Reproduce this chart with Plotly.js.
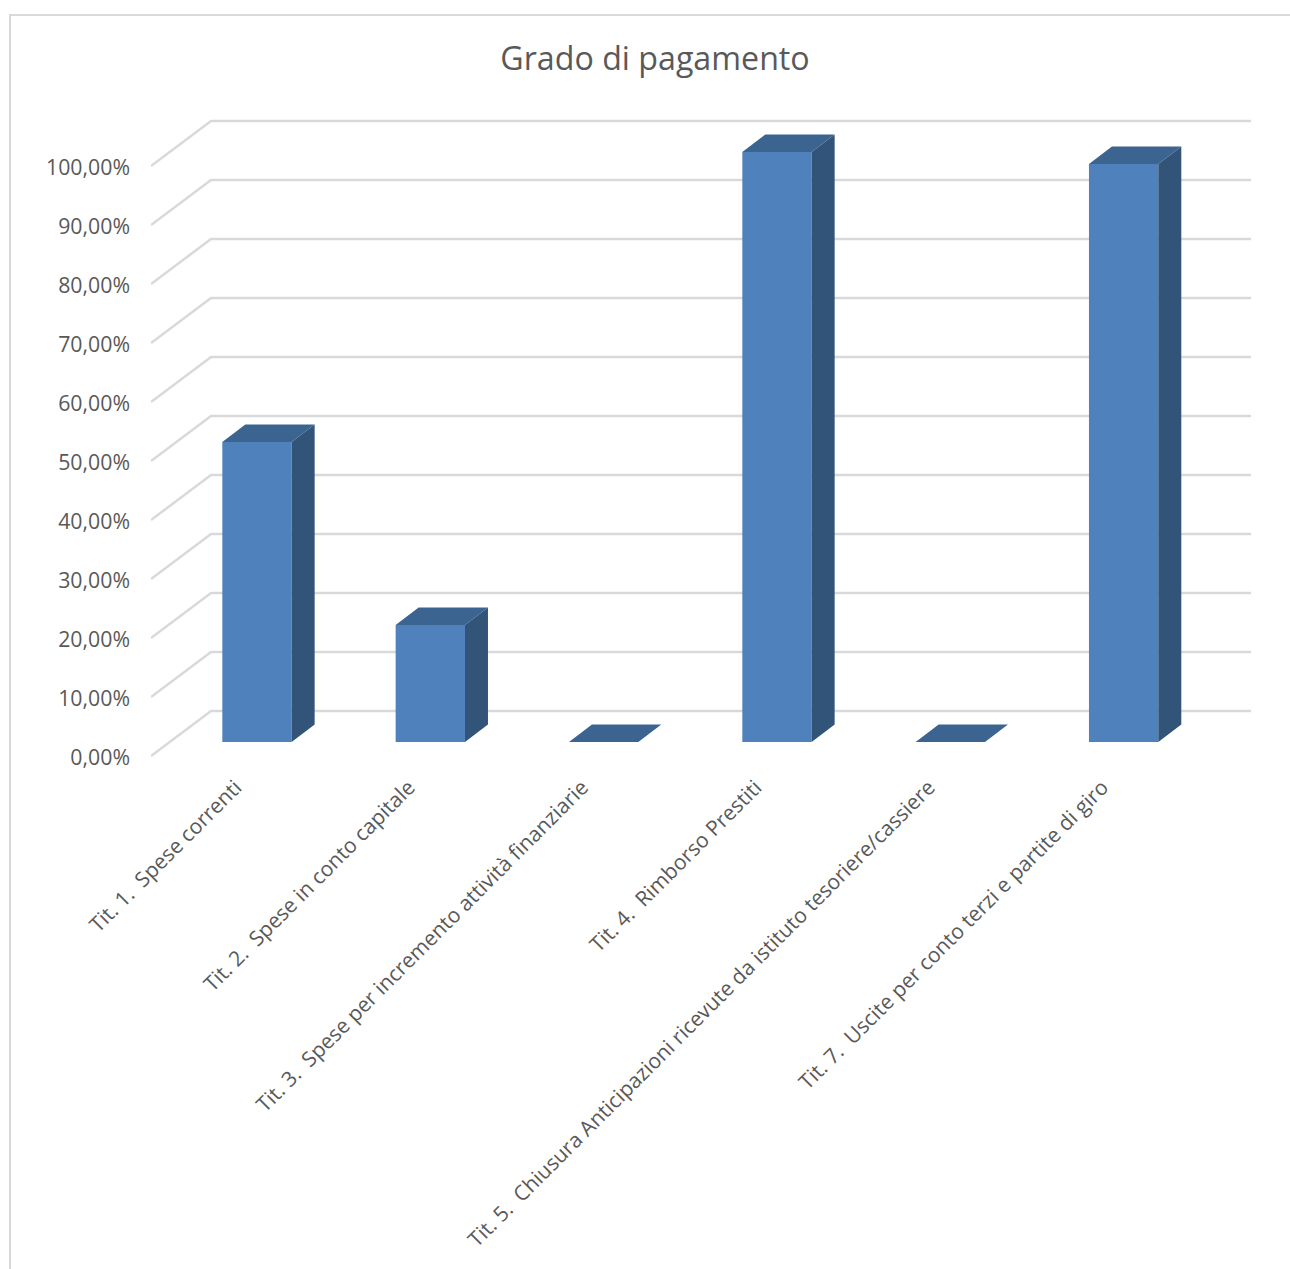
<!DOCTYPE html>
<html>
<head>
<meta charset="utf-8">
<script src="https://cdn.plot.ly/plotly-3.0.1.min.js"></script>
<style>
  html, body { margin: 0; padding: 0; background: #fff; }
  #frame { position: absolute; left: 9px; top: 14px; width: 1281px; height: 1255px;
           border-left: 2px solid #d9d9d9; border-top: 2px solid #d9d9d9; box-sizing: border-box; }
  #chart { position: absolute; left: 0; top: 0; width: 1290px; height: 1269px; }
</style>
</head>
<body>
<div id="frame"></div>
<div id="chart"></div>
<script>
// Share of payments for each budget title
const categories = [
  "Tit. 1.\u00A0 Spese correnti",
  "Tit. 2.\u00A0 Spese in conto capitale",
  "Tit. 3.\u00A0 Spese per incremento attività finanziarie",
  "Tit. 4.\u00A0 Rimborso Prestiti",
  "Tit. 5.\u00A0 Chiusura Anticipazioni ricevute da istituto tesoriere/cassiere",
  "Tit. 7.\u00A0 Uscite per conto terzi e partite di giro"
];
const values = [0.5085, 0.1983, 0, 1, 0, 0.9797];
const yTicks = [0, 0.1, 0.2, 0.3, 0.4, 0.5, 0.6, 0.7, 0.8, 0.9, 1];

// Oblique projection of the box, in axis units
const floorDx = 0.3462, floorDy = 0.0763;   // depth of the whole floor
const barDx = 0.1327, barDy = 0.0297;       // depth of one column
const barShift = 0.1114, barBase = 0.0237; // where the column's front sits on the floor
const barWidth = 0.4;
const labelShift = -0.012;                  // rotated labels sit just left of the slot centre
const yLabelShift = -0.0025;                // value labels sit just under the wall's front edge
const headroom = 0.0169;                    // spare room so the top gridline is not clipped
const footroom = 0.01;                      // spare room so the lowest label is not dropped

const positions = categories.map((_, i) => i);
const barCentres = positions.map(p => p + barShift);
const labelPositions = positions.map(p => p + labelShift);
const yLabelPositions = yTicks.map(v => v + yLabelShift);
const yLabels = yTicks.map(v => (v * 100).toFixed(2).replace(".", ",") + "%");

// Gridlines climb the left wall and then run along the back wall
const gridShapes = yTicks.map(v => ({
  type: "path", xref: "x", yref: "y", layer: "below",
  path: `M ${-0.5} ${v} L ${-0.5 + floorDx} ${v + floorDy} L ${5.5 + floorDx} ${v + floorDy}`,
  line: { color: "#d9d9d9", width: 2.5 }
}));

// Side and top faces of every column, separated by nulls
const sideX = [], sideY = [], topX = [], topY = [];
barCentres.forEach((c, i) => {
  const l = c - barWidth / 2, r = c + barWidth / 2;
  const y0 = barBase, y1 = barBase + values[i];
  sideX.push(r, r, r + barDx, r + barDx, r, null);
  sideY.push(y0, y1, y1 + barDy, y0 + barDy, y0, null);
  topX.push(l, r, r + barDx, l + barDx, l, null);
  topY.push(y1, y1, y1 + barDy, y1 + barDy, y1, null);
});

const face = (x, y, color) => ({
  type: "scatter", mode: "lines", x, y, fill: "toself", fillcolor: color,
  line: { width: 0, color }, hoverinfo: "skip", showlegend: false
});

const traces = [
  {
    type: "bar", x: barCentres, y: values, base: barBase, width: barWidth,
    marker: { color: "#4f81bd", line: { width: 0 } },
    hoverinfo: "skip", showlegend: false
  },
  face(sideX, sideY, "#325479"),
  face(topX, topY, "#3c6491")
];

const tickFont = { family: "'Open Sans', sans-serif", size: 21.3, color: "#595959" };

const layout = {
  width: 1290, height: 1269,
  margin: { l: 151, r: 39, t: 111, b: 507.1, pad: 0 },
  paper_bgcolor: "rgba(0,0,0,0)",
  plot_bgcolor: "rgba(0,0,0,0)",
  showlegend: false,
  title: {
    text: "Grado di pagamento",
    font: { family: "'Open Sans', sans-serif", size: 32.2, color: "#595959" },
    x: 655 / 1290, xanchor: "center", xref: "container",
    y: 1 - 59 / 1269, yanchor: "middle", yref: "container"
  },
  xaxis: {
    type: "linear", range: [-0.5, 5.5 + floorDx], fixedrange: true,
    tickmode: "array", tickvals: labelPositions, ticktext: categories,
    tickangle: -45, tickfont: { ...tickFont, size: 21 }, ticks: "", ticklabelstandoff: 8,
    showgrid: false, zeroline: false, showline: false
  },
  yaxis: {
    type: "linear", range: [-footroom, 1 + floorDy + headroom], fixedrange: true,
    tickmode: "array", tickvals: yLabelPositions, ticktext: yLabels,
    tickfont: tickFont, ticks: "", ticklabelstandoff: 20,
    showgrid: false, zeroline: false, showline: false
  },
  shapes: gridShapes
};

Plotly.newPlot("chart", traces, layout, { displayModeBar: false, staticPlot: true });
</script>
</body>
</html>
